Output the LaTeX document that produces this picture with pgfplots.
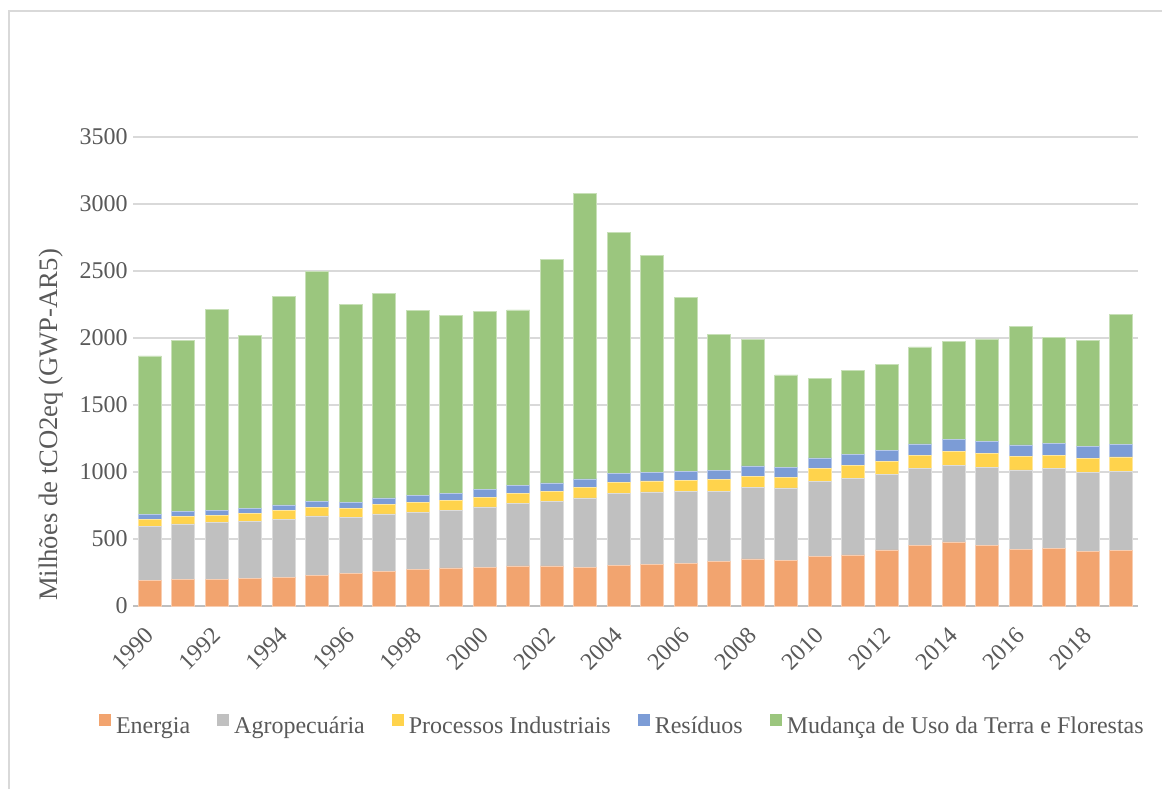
\documentclass[border=0pt]{standalone}
\usepackage{pgfplots}
\usepackage{pgfplotstable}
\pgfplotsset{compat=1.18}
\usepackage{fontspec}
\setmainfont{Liberation Serif}

\definecolor{cEnergia}{HTML}{F2A46F}
\definecolor{cAgro}{HTML}{C0C0C0}
\definecolor{cProc}{HTML}{FFD34C}
\definecolor{cRes}{HTML}{7C9CD6}
\definecolor{cLUC}{HTML}{9BC67E}
\definecolor{txt}{HTML}{595959}
\definecolor{gridc}{HTML}{D9D9D9}
\definecolor{axisc}{HTML}{BFBFBF}
\definecolor{framec}{HTML}{D9D9D9}

% Emissões por setor (milhões de tCO2eq, GWP-AR5)
\pgfplotstableread{
idx ano  energia agro proc res luc
0   1990 192 405  50 35 1184
1   1991 197 415  57 35 1279
2   1992 201 421  57 37 1495
3   1993 204 430  60 37 1289
4   1994 211 438  62 43 1554
5   1995 229 443  64 45 1719
6   1996 246 416  67 47 1475
7   1997 261 426  72 47 1527
8   1998 271 430  70 52 1384
9   1999 284 432  73 54 1324
10  2000 289 450  74 60 1326
11  2001 299 467  72 60 1311
12  2002 299 480  74 65 1667
13  2003 289 517  77 65 2129
14  2004 301 542  80 67 1796
15  2005 313 538  82 67 1619
16  2006 318 535  82 72 1297
17  2007 333 520  90 69 1013
18  2008 351 535  84 75  945
19  2009 343 538  77 74  692
20  2010 368 562  97 78  592
21  2011 381 574  95 82  627
22  2012 418 565  97 84  637
23  2013 453 572  99 85  724
24  2014 478 574 102 90  729
25  2015 455 582 102 90  764
26  2016 423 592  99 88  883
27  2017 430 595  99 92  791
28  2018 408 592 102 92  789
29  2019 413 594 105 94  971
}\emissoes

\newcommand{\chartfont}{\fontsize{18}{21.6}\selectfont}
\newcommand{\titlefont}{\fontsize{20}{24}\selectfont}

\begin{document}
\begin{tikzpicture}
\useasboundingbox (0,0) rectangle (871.5pt,591.75pt);
\begin{axis}[
  at={(99.75pt,137.25pt)}, anchor=south west,
  width=753.75pt, height=351.75pt, scale only axis,
  ybar stacked, bar width=17.25pt,
  xmin=-0.5, xmax=29.5, ymin=0, ymax=3500,
  axis x line*=bottom, axis y line*=left,
  x axis line style={draw=axisc, line width=1.5pt, -},
  y axis line style={draw=none},
  xtick={0,2,...,28},
  xticklabels={1990,1992,1994,1996,1998,2000,2002,2004,2006,2008,2010,2012,2014,2016,2018},
  ytick={0,500,...,3500},
  major tick length=0pt,
  ymajorgrids, grid style={draw=gridc, line width=0.9pt},
  scaled y ticks=false,
  /pgf/number format/1000 sep={},
  /pgf/number format/assume math mode=true,
  tick label style={font=\chartfont, text=txt},
  xticklabel style={inner sep=0pt, yshift=-19pt, rotate=45, anchor=east},
  yticklabel style={inner sep=0pt, xshift=-3.75pt, anchor=east},
  ylabel={Milhões de tCO2eq (GWP-AR5)},
  ylabel style={at={(axis description cs:-0.082,0.386)}, anchor=center, font=\titlefont, text=txt},
  legend columns=5,
  legend cell align=left,
  legend style={at={(axis description cs:-0.0338,-0.2537)}, anchor=west,
    draw=none, fill=none, inner sep=0pt, outer sep=0pt,
    font=\chartfont, text=txt,
    nodes={inner sep=0pt},
    column sep=3.75pt,
    /tikz/every even column/.append style={column sep=20.25pt}},
  legend image code/.code={\fill[#1, draw=none] (0pt,0pt) rectangle (9pt,9pt);},
]
\addplot[fill=cEnergia, draw=cEnergia!55!white, line width=0.5pt] table[x=idx, y=energia] {\emissoes};
\addlegendentry{Energia}
\addplot[fill=cAgro, draw=cAgro!55!white, line width=0.5pt] table[x=idx, y=agro] {\emissoes};
\addlegendentry{Agropecuária}
\addplot[fill=cProc, draw=cProc!55!white, line width=0.5pt] table[x=idx, y=proc] {\emissoes};
\addlegendentry{Processos Industriais}
\addplot[fill=cRes, draw=cRes!55!white, line width=0.5pt] table[x=idx, y=res] {\emissoes};
\addlegendentry{Resíduos}
\addplot[fill=cLUC, draw=cLUC!55!white, line width=0.5pt] table[x=idx, y=luc] {\emissoes};
\addlegendentry{Mudança de Uso da Terra e Florestas}
\end{axis}
% moldura do gráfico
\draw[framec, line width=1.5pt] (6.75pt,0pt) -- (6.75pt,583.5pt) -- (871.5pt,583.5pt);
\end{tikzpicture}
\end{document}
